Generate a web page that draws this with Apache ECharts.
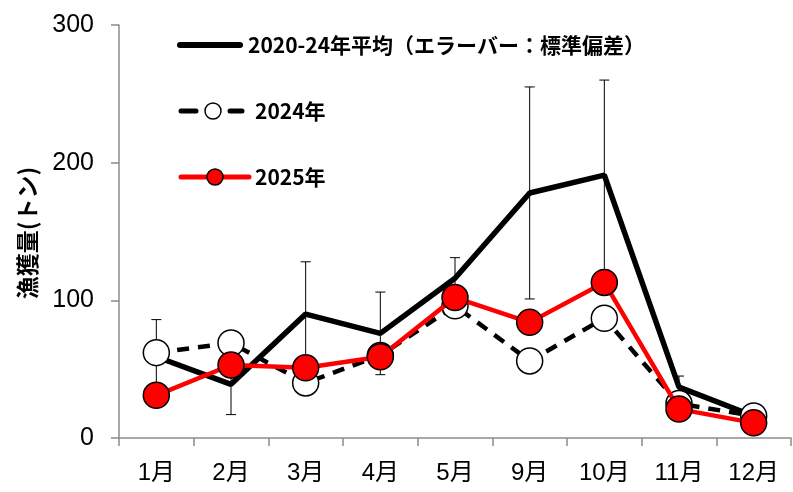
<!DOCTYPE html>
<html><head><meta charset="utf-8">
<script src="https://cdn.jsdelivr.net/npm/echarts@6/dist/echarts.min.js"></script>
<style>html,body{margin:0;padding:0;background:#fff}#c{width:793px;height:492px}</style>
</head><body><div id="c"></div>
<script>
const categories = ['1月','2月','3月','4月','5月','9月','10月','11月','12月'];
const avgValues = [59, 39, 90, 76, 116, 178, 191, 37, 16];
const avgSD = [27, 22, 38, 30, 15, 77, 69, 8, 3];
const y2024 = [62, 69, 40, 60, 96, 56, 87, 25, 16];
const y2025 = [31, 53, 51, 59, 102, 84, 113, 21, 11];
const yTicks = [0, 100, 200, 300];
const seriesNames = ['2020-24年平均（エラーバー：標準偏差）', '2024年', '2025年'];
const yAxisName = '漁獲量(トン)';

const errData = avgValues.map((v, i) => [i, v - avgSD[i], v + avgSD[i]]);
const chart = echarts.init(document.getElementById('c'));
const fontNum = 'Liberation Sans, Arial, Noto Sans CJK JP';
const legFont = 'bold 21px "Noto Sans CJK JP"';

function legendRow(y, textX, name, lineParts, circle) {
  const els = lineParts.map(p => ({
    type: 'line', shape: {x1: p[0], y1: y, x2: p[1], y2: y},
    style: {stroke: p[2], lineWidth: p[3], lineCap: 'round'}
  }));
  if (circle) els.push({type: 'circle', shape: {cx: circle[0], cy: y, r: 8},
    style: {fill: circle[1], stroke: '#000', lineWidth: 1.5}});
  els.push({type: 'text', x: textX, y: y,
    style: {text: name, font: legFont, fill: '#000', textVerticalAlign: 'middle', textAlign: 'left'}});
  return els;
}

const legendEls = [].concat(
  legendRow(45, 248, seriesNames[0], [[180, 240, '#000', 6]], null),
  legendRow(111, 255, seriesNames[1], [[181, 196, '#000', 5], [230, 242, '#000', 5]], [213, '#fff']),
  legendRow(177, 255, seriesNames[2], [[181, 249, '#ff0000', 5]], [215, '#ff0000'])
);

chart.setOption({
  animation: false,
  grid: {left: 119, right: 2, top: 25, bottom: 54},
  xAxis: {
    type: 'category', data: categories, boundaryGap: true,
    axisLine: {lineStyle: {color: '#8c8c8c', width: 1.5}},
    axisTick: {show: true, length: 8, lineStyle: {color: '#8c8c8c', width: 1.5}},
    axisLabel: {color: '#000', fontSize: 24, fontFamily: fontNum, margin: 23}
  },
  yAxis: {
    type: 'value', min: yTicks[0], max: yTicks[yTicks.length - 1], interval: 100,
    splitLine: {show: false},
    axisLine: {show: true, lineStyle: {color: '#8c8c8c', width: 1.5}},
    axisTick: {show: true, length: 8, lineStyle: {color: '#8c8c8c', width: 1.5}},
    axisLabel: {color: '#000', fontSize: 25, fontFamily: fontNum, margin: 25}
  },
  graphic: [{
    type: 'text', x: 27, y: 233, rotation: Math.PI / 2, z: 100,
    style: {text: yAxisName, font: 'bold 23px "Noto Sans CJK JP"', fill: '#000', textAlign: 'center', textVerticalAlign: 'middle'}
  }].concat(legendEls),
  series: [
    {
      type: 'custom', name: 'err', z: 1, silent: true,
      renderItem: function (params, api) {
        const x = api.coord([api.value(0), api.value(1)])[0];
        const lo = api.coord([api.value(0), api.value(1)])[1];
        const hi = api.coord([api.value(0), api.value(2)])[1];
        const cap = 5;
        const st = {stroke: '#000', lineWidth: 1};
        return {type: 'group', children: [
          {type: 'line', shape: {x1: x, y1: lo, x2: x, y2: hi}, style: st},
          {type: 'line', shape: {x1: x - cap, y1: hi, x2: x + cap, y2: hi}, style: st},
          {type: 'line', shape: {x1: x - cap, y1: lo, x2: x + cap, y2: lo}, style: st}
        ]};
      },
      encode: {x: 0, y: [1, 2]},
      data: errData
    },
    {
      type: 'line', name: seriesNames[0], data: avgValues, z: 2,
      symbol: 'none', lineStyle: {color: '#000', width: 5.5},
      itemStyle: {color: '#000'}
    },
    {
      type: 'line', name: seriesNames[1], data: y2024, z: 3,
      symbol: 'circle', symbolSize: 26,
      lineStyle: {color: '#000', width: 4.5, type: [12, 9]},
      itemStyle: {color: '#fff', borderColor: '#000', borderWidth: 1.5}
    },
    {
      type: 'line', name: seriesNames[2], data: y2025, z: 4,
      symbol: 'circle', symbolSize: 26,
      lineStyle: {color: '#ff0000', width: 4.5},
      itemStyle: {color: '#ff0000', borderColor: '#000', borderWidth: 1.5}
    }
  ]
});
</script></body></html>
